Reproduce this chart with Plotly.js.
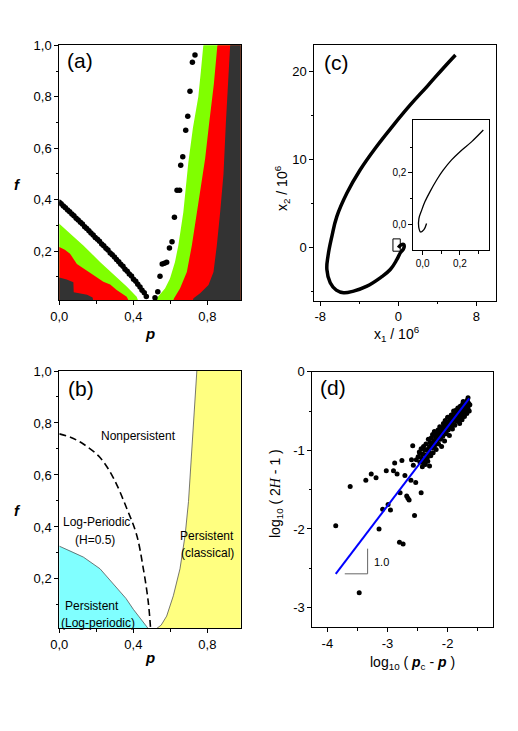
<!DOCTYPE html>
<html>
<head>
<meta charset="utf-8">
<script src="https://cdn.plot.ly/plotly-3.0.1.min.js"></script>
<style>
  body { margin: 0; background: #fff; }
  #plot { width: 518px; height: 731px; }
</style>
</head>
<body>
<div id="plot"></div>
<script>
// ---- panel (a): simulation map ----
var chainP = [0.000,0.010,0.022,0.033,0.045,0.056,0.068,0.079,0.091,0.102,0.114,0.125,0.137,0.148,0.160,0.171,0.183,0.194,0.206,0.217,0.229,0.240,0.252,0.263,0.275,0.286,0.298,0.309,0.321,0.332,0.344,0.355,0.367,0.378,0.390,0.401,0.413,0.424,0.436,0.447,0.459,0.470]
var chainF = [0.390,0.384,0.375,0.369,0.360,0.353,0.344,0.337,0.328,0.321,0.312,0.305,0.295,0.288,0.279,0.270,0.263,0.253,0.246,0.238,0.228,0.221,0.211,0.204,0.193,0.186,0.177,0.167,0.159,0.149,0.141,0.130,0.122,0.111,0.103,0.091,0.083,0.071,0.061,0.048,0.038,0.024]
var dotsP = [0.517,0.532,0.544,0.556,0.568,0.580,0.595,0.609,0.622,0.636,0.650,0.656,0.667,0.683,0.694,0.706,0.719,0.733]
var dotsF = [0.019,0.042,0.102,0.150,0.153,0.157,0.212,0.236,0.332,0.437,0.437,0.534,0.567,0.670,0.724,0.821,0.934,0.962]

// right side boundaries (bottom -> top)
var greenRP = [0.500,0.526,0.571,0.598,0.625,0.643,0.670,0.689,0.697,0.722,0.751,0.765,0.778]
var greenRF = [0.000,0.017,0.055,0.094,0.158,0.222,0.351,0.480,0.544,0.680,0.800,0.900,1.000]
var redRP = [0.612,0.620,0.652,0.689,0.716,0.743,0.770,0.788,0.810,0.835,0.854]
var redRF = [0.000,0.017,0.055,0.119,0.222,0.351,0.480,0.560,0.700,0.850,1.000]
var darkRP = [0.718,0.725,0.761,0.806,0.833,0.851,0.869,0.878,0.887,0.900,0.912,0.923]
var darkRF = [0.000,0.017,0.036,0.068,0.119,0.222,0.351,0.441,0.500,0.700,0.850,1.000]

// left side boundaries (left -> right)
var greenLP = [0.000,0.058,0.130,0.220,0.310,0.364,0.418,0.430]
var greenLF = [0.306,0.268,0.222,0.158,0.100,0.062,0.023,0.000]
var redLP = [0.000,0.030,0.058,0.095,0.130,0.184,0.238,0.275,0.310,0.364,0.380]
var redLF = [0.216,0.205,0.190,0.150,0.132,0.107,0.081,0.070,0.049,0.023,0.000]
var darkLP = [0.000,0.040,0.066,0.076,0.078,0.150,0.180,0.185]
var darkLF = [0.097,0.090,0.081,0.079,0.040,0.030,0.020,0.000]

// ---- panel (b): phase diagram ----
var cyanP = [0.000,0.060,0.130,0.220,0.310,0.360,0.400,0.454,0.490]
var cyanF = [0.326,0.308,0.284,0.239,0.168,0.125,0.083,0.031,0.000]
var yellowP = [0.508,0.550,0.580,0.616,0.652,0.680,0.698,0.716,0.730,0.743]
var yellowF = [0.000,0.022,0.057,0.135,0.239,0.369,0.498,0.693,0.848,1.000]
var dashP = [0.000,0.060,0.130,0.220,0.292,0.364,0.418,0.454,0.481,0.494]
var dashF = [0.758,0.745,0.719,0.667,0.589,0.472,0.369,0.239,0.109,0.000]

// ---- panel (c): trajectory (units of 10^6) ----
var trajX1 = [0.0,0.30,0.55,0.60,0.45,0.20,-0.14,-0.82,-1.85,-3.21,-4.58,-5.60,-6.35,-6.97,-7.31,-7.20,-6.80,-6.29,-5.26,-3.90,-2.30,-0.60,1.20,3.00,4.60,5.85]
var trajX2 = [0.0,0.35,0.40,0.10,-0.25,-0.57,-1.32,-2.46,-3.40,-4.35,-4.91,-5.10,-4.80,-3.96,-2.46,-0.95,1.31,3.58,6.23,8.87,11.40,13.80,16.20,18.40,20.40,21.90]
var insetX1 = [0.021,0.007,-0.011,-0.021,-0.020,-0.005,0.012,0.039,0.075,0.110,0.155,0.200,0.263,0.325]
var insetX2 = [0.003,-0.021,-0.030,-0.011,0.022,0.055,0.087,0.126,0.172,0.210,0.250,0.282,0.321,0.366]

// ---- panel (d): log-log scaling ----
var logDp = [-3.86,-3.62,-3.47,-3.36,-3.27,-3.19,-3.14,-3.08,-3.02,-2.99,-2.95,-2.90,-2.88,-2.84,-2.80,-2.79,-2.76,-2.74,-2.71,-2.68,-2.66,-2.64,-2.61,-2.58,-2.60,-2.57,-2.55,-2.53,-2.52,-2.46,-2.44,
  -2.49,-2.47,-2.46,-2.44,-2.43,-2.42,-2.41,-2.40,-2.39,-2.38,-2.37,-2.36,-2.35,-2.34,-2.33,-2.32,-2.31,-2.30,-2.30,
  -2.29,-2.28,-2.27,-2.26,-2.25,-2.24,-2.23,-2.22,-2.21,-2.20,-2.19,-2.18,-2.17,-2.16,-2.15,-2.14,-2.13,-2.12,-2.11,-2.10,
  -2.09,-2.08,-2.07,-2.06,-2.05,-2.04,-2.03,-2.02,-2.01,-2.00,-1.99,-1.98,-1.97,-1.96,-1.95,-1.94,-1.93,-1.92,-1.91,-1.90,
  -1.89,-1.88,-1.87,-1.86,-1.85,-1.84,-1.83,-1.82,-1.81,-1.80,-1.79,-1.78,-1.77,-1.76,-1.75,-1.74,-1.73,-1.72,-1.71,-1.70,
  -1.69,-1.68,-1.67,-1.66,-1.65,-1.64,-1.66,-1.63,-1.68,-1.71,-1.74,-1.77,-1.80,-1.83,-1.86,-1.90,-1.94,-1.98,-2.02,-2.06,
  -2.11,-2.15,-2.19,-2.23,-2.27,-2.34,-2.40]
var logH = [-1.96,-1.46,-2.81,-1.38,-1.30,-1.35,-2.00,-1.75,-1.26,-1.69,-1.76,-1.26,-1.16,-1.30,-2.17,-1.54,-1.13,-2.19,-1.32,-1.58,-1.61,-1.63,-1.38,-0.94,-1.12,-1.19,-1.83,-1.41,-1.12,-1.04,-1.54,
  -1.08,-1.02,-1.15,-0.98,-1.10,-1.21,-1.05,-0.95,-1.12,-1.00,-1.18,-0.92,-1.06,-0.99,-1.14,-0.86,-1.02,-0.95,-1.20,
  -0.90,-1.07,-0.84,-0.97,-0.80,-1.03,-0.88,-0.76,-0.93,-0.83,-0.99,-0.78,-0.87,-0.74,-0.92,-0.81,-0.70,-0.86,-0.77,-0.95,
  -0.72,-0.82,-0.66,-0.76,-0.88,-0.62,-0.71,-0.79,-0.67,-0.58,-0.74,-0.64,-0.81,-0.60,-0.69,-0.55,-0.65,-0.73,-0.58,-0.62,
  -0.52,-0.68,-0.57,-0.49,-0.63,-0.54,-0.46,-0.59,-0.51,-0.66,-0.44,-0.55,-0.48,-0.61,-0.41,-0.52,-0.45,-0.57,-0.39,-0.49,
  -0.43,-0.53,-0.36,-0.46,-0.40,-0.50,-0.33,-0.42,-0.38,-0.46,-0.38,-0.56,-0.47,-0.62,-0.55,-0.50,-0.61,-0.70,-0.64,-0.69,
  -0.84,-0.79,-0.86,-0.95,-0.92,-1.10,-1.16]
var fitX = [-3.86,-1.64]
var fitY = [-2.57,-0.34]

var W = 518, H = 731
function px(v) { return v / W }
function py(v) { return 1 - v / H }

var BLACK = '#000'
var font = 'Liberation Sans, Arial, sans-serif'

function closeRight(xs, ys) {
  return { x: xs.concat([1.1, 1.1]), y: ys.concat([1.1, -0.1]) }
}
function closeLeft(xs, ys) {
  return { x: [-0.1].concat(xs).concat([xs[xs.length - 1], -0.1]), y: [ys[0]].concat(ys).concat([-0.1, -0.1]) }
}

function region(poly, color, xa, ya) {
  return { x: poly.x, y: poly.y, xaxis: xa, yaxis: ya, type: 'scatter', mode: 'lines',
    fill: 'toself', fillcolor: color, line: { width: 0, color: color }, hoverinfo: 'skip', showlegend: false }
}

var traces = []
// (a) regions
traces.push(region(closeRight(greenRP, greenRF), '#80ff00', 'x', 'y'))
traces.push(region(closeRight(redRP, redRF), '#ff0000', 'x', 'y'))
traces.push(region(closeRight(darkRP, darkRF), '#333333', 'x', 'y'))
traces.push(region(closeLeft(greenLP, greenLF), '#80ff00', 'x', 'y'))
traces.push(region(closeLeft(redLP, redLF), '#ff0000', 'x', 'y'))
traces.push(region(closeLeft(darkLP, darkLF), '#333333', 'x', 'y'))
traces.push({ x: chainP, y: chainF, xaxis: 'x', yaxis: 'y', mode: 'markers', type: 'scatter',
  marker: { color: BLACK, size: 5.5 }, showlegend: false })
traces.push({ x: dotsP, y: dotsF, xaxis: 'x', yaxis: 'y', mode: 'markers', type: 'scatter',
  marker: { color: BLACK, size: 5.5 }, showlegend: false })

// (b) regions
traces.push(region(closeLeft(cyanP, cyanF), '#80ffff', 'x2', 'y2'))
traces.push(region(closeRight(yellowP, yellowF), '#ffff80', 'x2', 'y2'))
traces.push({ x: cyanP, y: cyanF, xaxis: 'x2', yaxis: 'y2', mode: 'lines', type: 'scatter',
  line: { color: '#555', width: 0.8 }, showlegend: false })
traces.push({ x: yellowP, y: yellowF, xaxis: 'x2', yaxis: 'y2', mode: 'lines', type: 'scatter',
  line: { color: '#555', width: 0.8 }, showlegend: false })
traces.push({ x: dashP, y: dashF, xaxis: 'x2', yaxis: 'y2', mode: 'lines', type: 'scatter',
  line: { color: BLACK, width: 1.6, dash: '7px,4px', shape: 'spline' }, showlegend: false })

// (c) trajectory + inset
traces.push({ x: trajX1, y: trajX2, xaxis: 'x3', yaxis: 'y3', mode: 'lines', type: 'scatter',
  line: { color: BLACK, width: 3.5, shape: 'spline', smoothing: 1.2 }, showlegend: false })
traces.push({ x: insetX1, y: insetX2, xaxis: 'x4', yaxis: 'y4', mode: 'lines', type: 'scatter',
  line: { color: BLACK, width: 1.3, shape: 'spline' }, showlegend: false })

// (d) scatter + fit
traces.push({ x: logDp, y: logH, xaxis: 'x5', yaxis: 'y5', mode: 'markers', type: 'scatter',
  marker: { color: BLACK, size: 5 }, showlegend: false })
traces.push({ x: fitX, y: fitY, xaxis: 'x5', yaxis: 'y5', mode: 'lines', type: 'scatter',
  line: { color: '#0000ff', width: 2 }, showlegend: false })

function axis(domain, range, vals, texts, minor, anchor, size) {
  return {
    domain: domain, range: range, anchor: anchor,
    tickmode: 'array', tickvals: vals, ticktext: texts,
    ticks: 'outside', ticklen: 4, tickwidth: 1, tickcolor: BLACK,
    showline: true, linecolor: BLACK, linewidth: 1, mirror: true,
    showgrid: false, zeroline: false,
    tickfont: { family: font, size: size || 13, color: BLACK },
    minor: { tickmode: 'array', tickvals: minor, ticks: 'outside', ticklen: 2.5, tickcolor: BLACK, showgrid: false }
  }
}

var pTicks = [0, 0.4, 0.8], pText = ['0,0', '0,4', '0,8'], pMinor = [0.2, 0.6]
var fTicks = [0.2, 0.4, 0.6, 0.8, 1.0], fText = ['0,2', '0,4', '0,6', '0,8', '1,0'], fMinor = [0.1, 0.3, 0.5, 0.7, 0.9]

var layout = {
  width: W, height: H,
  margin: { l: 0, r: 0, t: 0, b: 0 },
  paper_bgcolor: '#fff', plot_bgcolor: '#fff',
  showlegend: false,
  font: { family: font, color: BLACK },
  xaxis: axis([px(59.3), px(240.7)], [0, 0.98], pTicks, pText, pMinor, 'y'),
  yaxis: axis([py(300), py(45.3)], [0.01, 1.0], fTicks, fText, fMinor, 'x'),
  xaxis2: axis([px(59.3), px(240.7)], [0, 0.98], pTicks, pText, pMinor, 'y2'),
  yaxis2: axis([py(628.3), py(371)], [0.01, 1.0], fTicks, fText, fMinor, 'x2'),
  xaxis3: axis([px(314.3), px(496)], [-8.6, 10.0], [-8, 0, 8], ['-8', '0', '8'], [-4, 4], 'y3'),
  yaxis3: axis([py(300.7), py(45.3)], [-6, 23], [0, 10, 20], ['0', '10', '20'], [-5, 5, 15], 'x3'),
  xaxis4: axis([px(413.3), px(489.3)], [-0.05, 0.357], [0, 0.2], ['0,0', '0,2'], [0.1, 0.3], 'y4', 10),
  yaxis4: axis([py(250), py(120)], [-0.10, 0.405], [0, 0.2], ['0,0', '0,2'], [0.1, 0.3], 'x4', 10),
  xaxis5: axis([px(312.3), px(493.3)], [-4.25, -1.24], [-4, -3, -2], ['-4', '-3', '-2'], [-3.5, -2.5, -1.5], 'y5'),
  yaxis5: axis([py(627.3), py(371.7)], [-3.25, 0], [0, -1, -2, -3], ['0', '-1', '-2', '-3'], [-0.5, -1.5, -2.5], 'x5'),
  shapes: [
    { type: 'rect', xref: 'x3', yref: 'y3', x0: -0.55, x1: 0.2, y0: -0.38, y1: 1.02, line: { color: BLACK, width: 1 } },
    { type: 'line', xref: 'x5', yref: 'y5', x0: -3.71, x1: -3.33, y0: -2.57, y1: -2.57, line: { color: '#666', width: 1 } },
    { type: 'line', xref: 'x5', yref: 'y5', x0: -3.33, x1: -3.33, y0: -2.57, y1: -2.25, line: { color: '#666', width: 1 } }
  ],
  annotations: []
}

function note(text, x, y, opts) {
  var a = { text: text, x: px(x), y: py(y), xref: 'paper', yref: 'paper', showarrow: false,
    xanchor: 'center', yanchor: 'middle', font: { family: font, size: 14, color: BLACK } }
  for (var k in opts) a[k] = opts[k]
  layout.annotations.push(a)
}
function label(text, x, y, xa, ya, size, anchor) {
  layout.annotations.push({ text: text, x: x, y: y, xref: xa, yref: ya, showarrow: false,
    xanchor: anchor || 'center', yanchor: 'middle', font: { family: font, size: size, color: BLACK } })
}

// panel letters
note('(a)', 65, 61, { xanchor: 'left', font: { family: font, size: 21, color: BLACK } })
note('(b)', 66, 388, { xanchor: 'left', font: { family: font, size: 21, color: BLACK } })
note('(c)', 322, 63, { xanchor: 'left', font: { family: font, size: 21, color: BLACK } })
note('(d)', 318, 387, { xanchor: 'left', font: { family: font, size: 21, color: BLACK } })

// axis titles
note('<b><i>f</i></b>', 17, 185, { font: { family: font, size: 15, color: BLACK } })
note('<b><i>f</i></b>', 17, 511, { font: { family: font, size: 15, color: BLACK } })
note('<b><i>p</i></b>', 150, 333, { font: { family: font, size: 15, color: BLACK } })
note('<b><i>p</i></b>', 150, 657, { font: { family: font, size: 15, color: BLACK } })
note('x<sub>1</sub> / 10<sup>6</sup>', 397, 334, {})
note('x<sub>2</sub> / 10<sup>6</sup>', 282, 188, { textangle: -90 })
note('log<sub>10</sub> ( 2<span style="font-family:Liberation Serif"><i>H</i></span> - 1 )', 276, 494, { textangle: -90 })
note('log<sub>10</sub> ( <b><i>p</i></b><sub>c</sub> - <b><i>p</i></b> )', 412, 663, {})

// panel (b) region names
label('Nonpersistent', 0.427, 0.751, 'x2', 'y2', 12)
label('Log-Periodic', 0.20, 0.418, 'x2', 'y2', 12)
label('(H=0.5)', 0.193, 0.349, 'x2', 'y2', 12)
label('Persistent', 0.80, 0.365, 'x2', 'y2', 12)
label('(classical)', 0.80, 0.301, 'x2', 'y2', 12)
label('Persistent', 0.175, 0.096, 'x2', 'y2', 12)
label('(Log-periodic)', 0.211, 0.031, 'x2', 'y2', 12)

// slope marker
label('1.0', -3.26, -2.42, 'x5', 'y5', 11, 'left')

Plotly.newPlot('plot', traces, layout, { staticPlot: true })
</script>
</body>
</html>
